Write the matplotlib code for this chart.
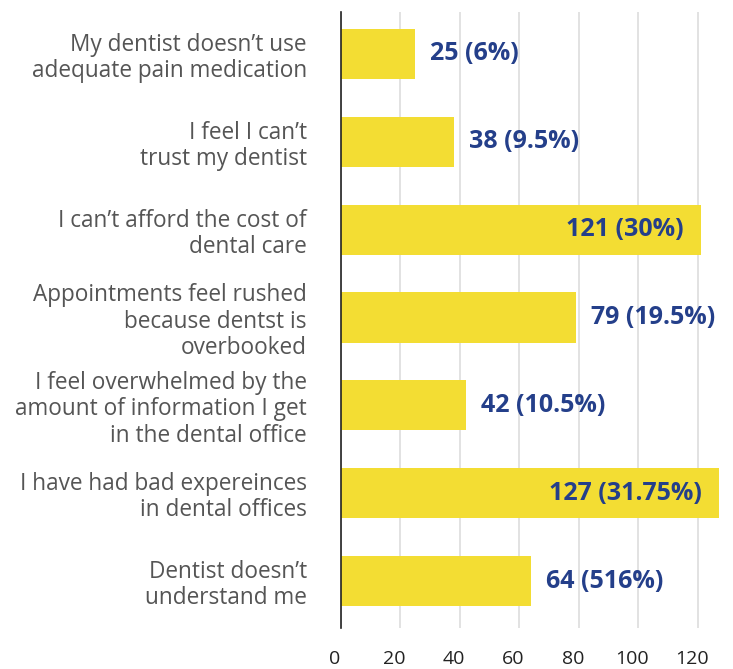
import matplotlib
matplotlib.use("Agg")
import matplotlib.pyplot as plt
import matplotlib.transforms as mtransforms

categories = [
    "My dentist doesn\u2019t use\nadequate pain medication",
    "I feel I can\u2019t\ntrust my dentist",
    "I can\u2019t afford the cost of\ndental care",
    "Appointments feel rushed\nbecause dentst is\noverbooked",
    "I feel overwhelmed by the\namount of information I get\nin the dental office",
    "I have had bad expereinces\nin dental offices",
    "Dentist doesn\u2019t\nunderstand me",
]
values = [25, 38, 121, 79, 42, 127, 64]
value_labels = ["25 (6%)", "38 (9.5%)", "121 (30%)", "79 (19.5%)",
                "42 (10.5%)", "127 (31.75%)", "64 (516%)"]
inside = [False, False, True, False, False, True, False]
xticks = [0, 20, 40, 60, 80, 100, 120]

W, H = 733, 669
fig = plt.figure(figsize=(W / 100, H / 100), dpi=100)
ax = fig.add_axes([341 / W, 1 - 628 / H, (733 - 341) / W, (628 - 12) / H])

ypos = list(range(len(categories)))
ax.barh(ypos, values, height=0.57, color="#F3DD33", zorder=2)
ax.set_ylim(len(categories) - 1 + 0.535, -0.478)
ax.set_xlim(0, 131.8)

ax.set_yticks(ypos)
ax.set_yticklabels(categories, fontsize=16.3, color="#555555",
                   family="Open Sans", linespacing=1.12)
ax.tick_params(axis="y", length=0, pad=24.5)

ax.set_xticks(xticks)
ax.set_xticklabels([str(t) for t in xticks], fontsize=14, color="#222222",
                   family="Open Sans")
ax.tick_params(axis="x", length=0, pad=16)
offset = mtransforms.ScaledTranslation(-6 / 100, 0, fig.dpi_scale_trans)
for lab in ax.get_xticklabels():
    lab.set_transform(lab.get_transform() + offset)

ax.grid(axis="x", color="#DDDDDD", linewidth=1.2, zorder=0)
ax.grid(axis="y", visible=False)
for s in ["top", "right", "bottom"]:
    ax.spines[s].set_visible(False)
ax.spines["left"].set_color("#222222")
ax.spines["left"].set_linewidth(1.2)
ax.spines["left"].set_zorder(3)

for y, v, lab, ins in zip(ypos, values, value_labels, inside):
    if ins:
        ax.annotate(lab, (v, y), xytext=(-17, 0), textcoords="offset pixels",
                    ha="right", va="center", fontsize=18, fontweight="bold",
                    color="#243F8A", family="Open Sans", zorder=4)
    else:
        ax.annotate(lab, (v, y), xytext=(15, 0), textcoords="offset pixels",
                    ha="left", va="center", fontsize=18, fontweight="bold",
                    color="#243F8A", family="Open Sans", zorder=4)

fig.savefig("out.png", dpi=100)
